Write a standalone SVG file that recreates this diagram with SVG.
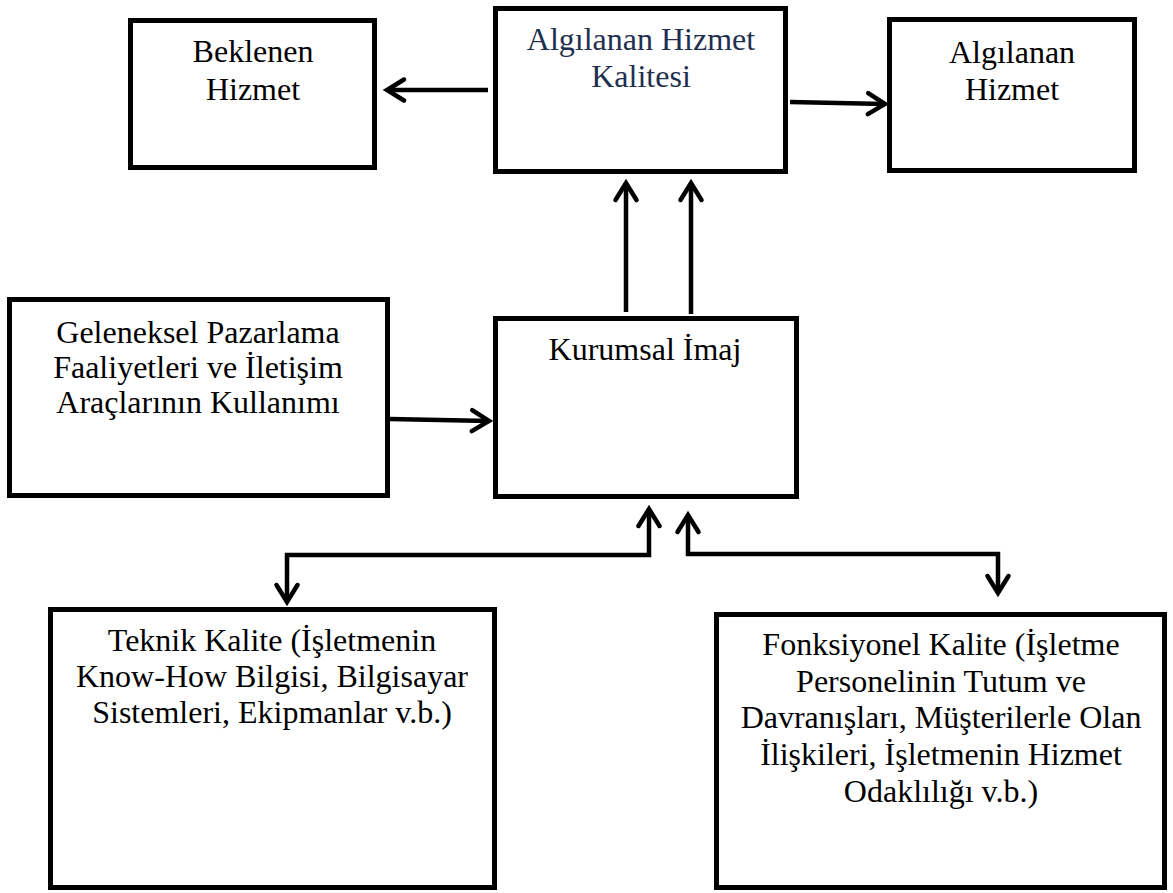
<svg xmlns="http://www.w3.org/2000/svg" width="1173" height="893" viewBox="0 0 1173 893">
<style>
.box{fill:#fff;stroke:#000;stroke-width:5}
text{font-family:'Liberation Serif','Times New Roman','DejaVu Serif',serif;font-size:32px;fill:#000;text-anchor:middle}
.navy{fill:#1f2f4f}
.c{fill:none;stroke:#000;stroke-width:4.5;stroke-linejoin:miter}
</style>
<defs>
<marker id="ah" viewBox="-25 -15 30 30" markerUnits="userSpaceOnUse" markerWidth="30" markerHeight="30" refX="0" refY="0" orient="auto-start-reverse">
<path d="M-17,-10.5 L0,0 L-17,10.5" fill="none" stroke="#000" stroke-width="4.5" stroke-linejoin="miter" stroke-linecap="round"/>
</marker>
</defs>
<rect width="1173" height="893" fill="#fff"/>
<g id="beklenen">
<rect class="box" x="130.5" y="20.5" width="244" height="147"/>
<text font-family="Liberation Serif" x="253" y="62">Beklenen</text>
<text font-family="Liberation Serif" x="253" y="100">Hizmet</text>
</g>
<g id="algilanan-kalite">
<rect class="box" x="495.5" y="8.5" width="290" height="163"/>
<text font-family="Liberation Serif" class="navy" x="641" y="50">Algılanan Hizmet</text>
<text font-family="Liberation Serif" class="navy" x="641" y="87">Kalitesi</text>
</g>
<g id="algilanan-hizmet">
<rect class="box" x="889.5" y="19.5" width="245" height="151"/>
<text font-family="Liberation Serif" x="1012" y="63">Algılanan</text>
<text font-family="Liberation Serif" x="1012" y="100">Hizmet</text>
</g>
<g id="geleneksel">
<rect class="box" x="9.5" y="299.5" width="378" height="196"/>
<text font-family="Liberation Serif" x="198" y="343">Geleneksel Pazarlama</text>
<text font-family="Liberation Serif" x="198" y="378">Faaliyetleri ve İletişim</text>
<text font-family="Liberation Serif" x="198" y="413">Araçlarının Kullanımı</text>
</g>
<g id="kurumsal">
<rect class="box" x="495.5" y="318.5" width="301" height="178"/>
<text font-family="Liberation Serif" x="645" y="360">Kurumsal İmaj</text>
</g>
<g id="teknik">
<rect class="box" x="50.5" y="609.5" width="444" height="278"/>
<text font-family="Liberation Serif" x="272" y="651">Teknik Kalite (İşletmenin</text>
<text font-family="Liberation Serif" x="272" y="687">Know-How Bilgisi, Bilgisayar</text>
<text font-family="Liberation Serif" x="272" y="723">Sistemleri, Ekipmanlar v.b.)</text>
</g>
<g id="fonksiyonel">
<rect class="box" x="716.5" y="614.5" width="448" height="273"/>
<text font-family="Liberation Serif" x="941" y="655">Fonksiyonel Kalite (İşletme</text>
<text font-family="Liberation Serif" x="941" y="692">Personelinin Tutum ve</text>
<text font-family="Liberation Serif" x="941" y="728">Davranışları, Müşterilerle Olan</text>
<text font-family="Liberation Serif" x="941" y="765">İlişkileri, İşletmenin Hizmet</text>
<text font-family="Liberation Serif" x="941" y="802">Odaklılığı v.b.)</text>
</g>
<g id="connectors">
<path class="c" d="M488,90 L387,90" marker-end="url(#ah)"/>
<path class="c" d="M790,102 L885,104" marker-end="url(#ah)"/>
<path class="c" d="M626,312 L626,183" marker-end="url(#ah)"/>
<path class="c" d="M691,314 L691,183" marker-end="url(#ah)"/>
<path class="c" d="M390,419 L489,421" marker-end="url(#ah)"/>
<path class="c" d="M287,602 L287,555 L649,555 L649,509" marker-start="url(#ah)" marker-end="url(#ah)"/>
<path class="c" d="M688,515 L688,554 L998,554 L998,593" marker-start="url(#ah)" marker-end="url(#ah)"/>
</g>
</svg>
